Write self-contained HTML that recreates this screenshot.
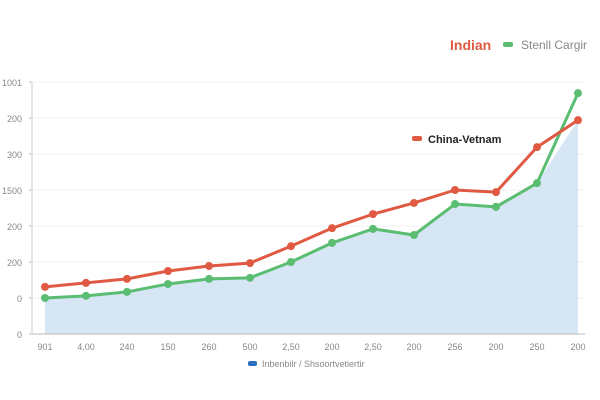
<!DOCTYPE html>
<html><head><meta charset="utf-8"><style>
body{margin:0;background:#fff;font-family:"Liberation Sans",sans-serif}
svg{display:block}
</style></head><body>
<svg width="600" height="400" id="c">
<g id="grid"></g><g id="area"></g><g id="lines"></g><g id="axes"></g>
<text x="450" y="50" fill="#e05a43" font-size="14" font-weight="bold">Indian</text>
<rect x="503" y="42" width="10" height="5" rx="2" fill="#5bbd72"/>
<text x="521" y="49" fill="#888" font-size="12">Stenll  Cargir</text>
<rect x="412" y="136" width="10" height="5" rx="2" fill="#e05a43"/>
<text x="428" y="143" fill="#222" font-size="11" font-weight="bold">China-Vetnam</text>
<rect x="248" y="361" width="9" height="5" rx="2" fill="#2a6fc0"/>
<text x="262" y="367" fill="#888" font-size="9">Inbenbilr  /  Shsoortvetiertir</text>
</svg>
<script>
const categories=["901","4,00","240","150","260","500","2,50","200","2,50","200","256","200","250","200"];
const redValues=[131,142,153,175,189,197,244,294,333,364,400,394,519,594];
const greenValues=[100,106,117,139,153,156,200,253,292,275,361,353,419,669];
const yTickLabels=["0","0","200","200","1500","300","200","1001"];
const yTickValues=[0,100,200,300,400,500,600,700];
const NS="http://www.w3.org/2000/svg";
const x0=45,x1=578,yB=334,yT=82,vMax=700;
const xs=i=>x0+i*(x1-x0)/(categories.length-1);
const ys=v=>yB-v*(yB-yT)/vMax;
function mk(t,a,p){const e=document.createElementNS(NS,t);for(const k in a)e.setAttribute(k,a[k]);document.getElementById(p).appendChild(e);return e;}
yTickValues.forEach((v,i)=>{
 const g=mk("line",{x1:32,x2:585,y1:ys(v),y2:ys(v),stroke:"#f2f2f2"},"grid");
 
 
 const t=mk("text",{x:22,y:ys(v)+4,"text-anchor":"end","font-size":9,fill:"#888"},"axes");
 t.textContent=yTickLabels[i];
 
 
 mk("line",{x1:29,x2:32,y1:ys(v),y2:ys(v),stroke:"#bbb"},"axes");
});
const ax=mk("line",{x1:32,x2:32,y1:yT,y2:yB,stroke:"#ccc"},"axes");


const bx=mk("line",{x1:32,x2:585,y1:yB,y2:yB,stroke:"#bbb"},"axes");


categories.forEach((c,i)=>{
 const t=mk("text",{x:xs(i),y:350,"text-anchor":"middle","font-size":9,fill:"#888"},"axes");
 t.textContent=c;
 
 
});
let d="M"+xs(0)+","+yB;
categories.forEach((c,i)=>{d+=" L"+xs(i)+","+ys(Math.max(redValues[i],greenValues[i])===redValues[i]?Math.min(redValues[i],greenValues[i]):greenValues[i]);});
d="M"+xs(0)+","+yB+categories.map((c,i)=>" L"+xs(i)+","+ys(Math.min(redValues[i],greenValues[i]))).join("")+" L"+xs(categories.length-1)+","+yB+" Z";
const ar=mk("path",{d:d,fill:"#d6e6f4"},"area");


function series(vals,col,name){
 const l=mk("polyline",{points:vals.map((v,i)=>xs(i)+","+ys(v)).join(" "),fill:"none",stroke:col,"stroke-width":3,"stroke-linejoin":"round"},"lines");
 
 
 vals.forEach((v,i)=>{
  const p=mk("circle",{cx:xs(i),cy:ys(v),r:4,fill:col},"lines");
  
  
 });
}
series(greenValues,"#5bbd72","green-series");
series(redValues,"#e05a43","red-series");
</script>
</body></html>
